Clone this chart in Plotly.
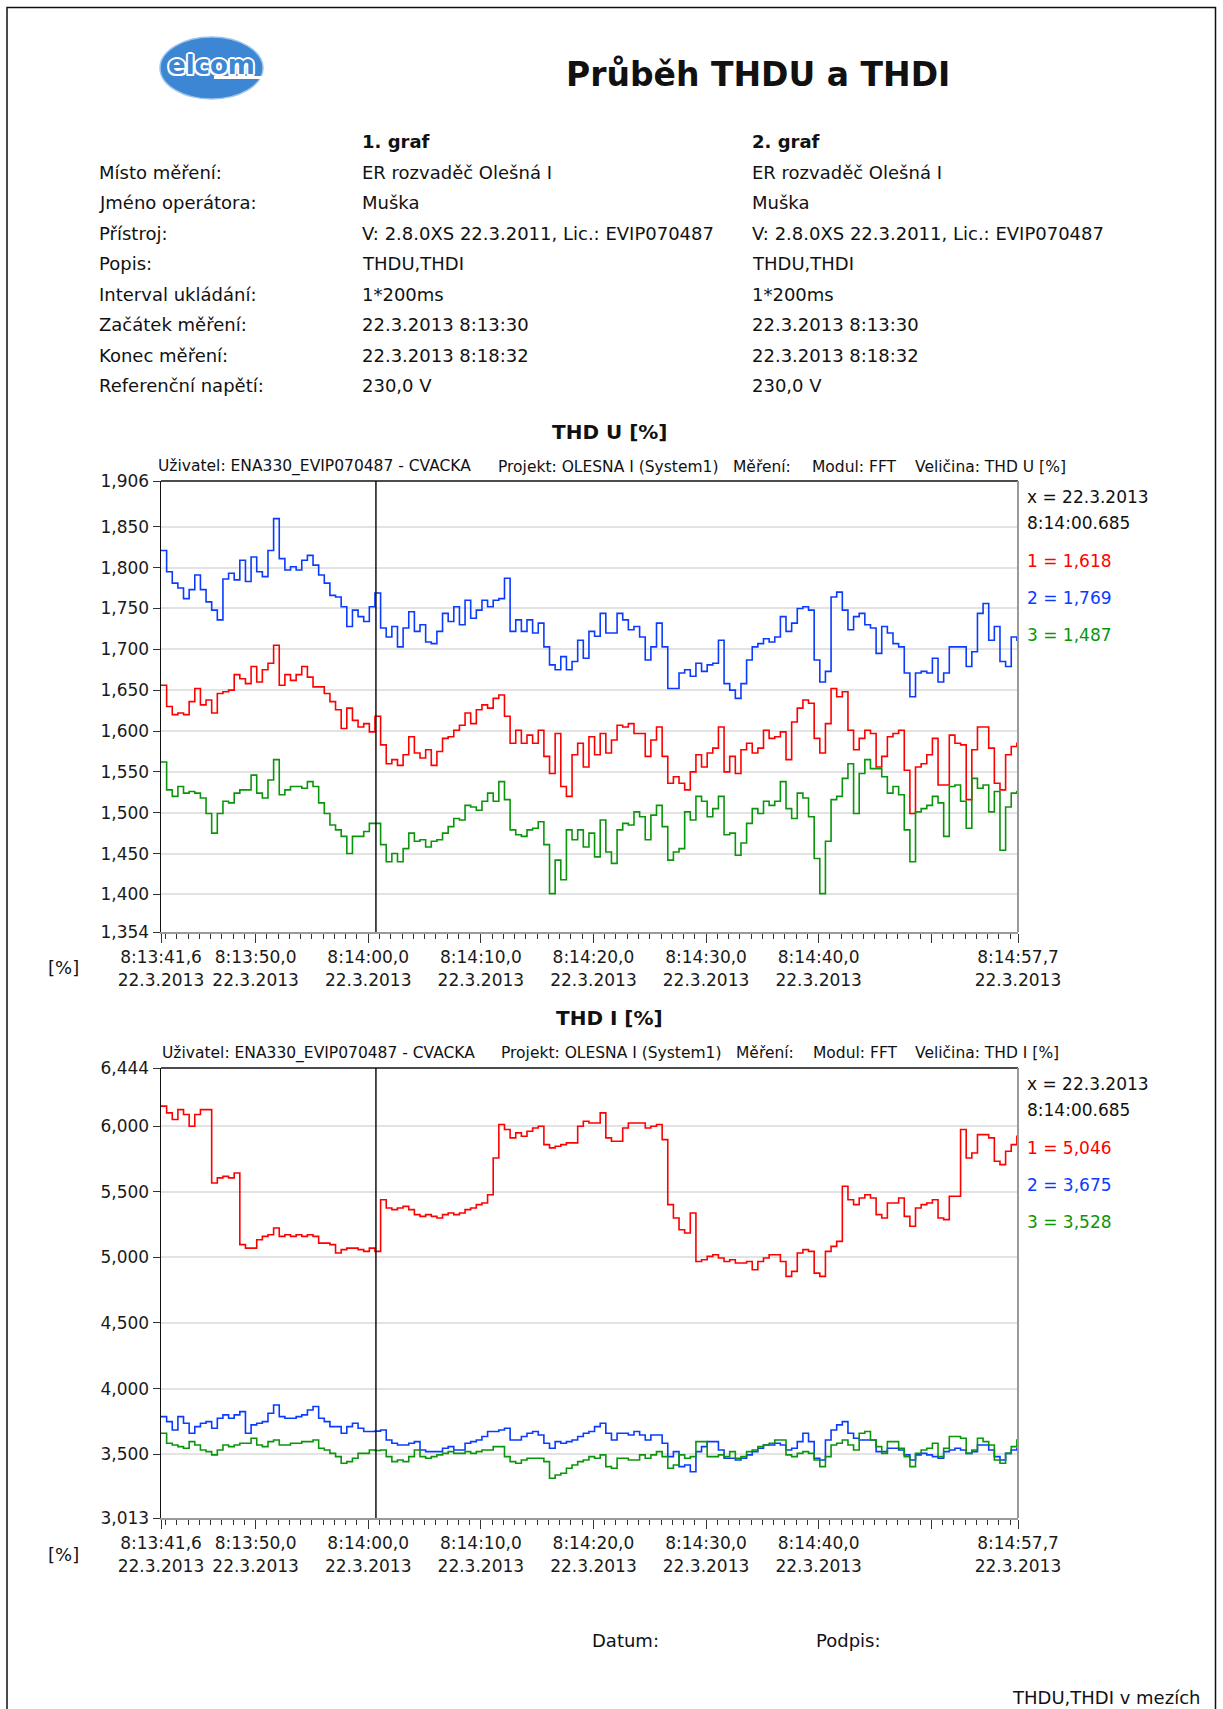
import pandas as pd
import plotly.graph_objects as go

# ---------------------------------------------------------------- data
START = pd.Timestamp("2013-03-22 08:13:41.6")
END = pd.Timestamp("2013-03-22 08:14:57.7")
CURSOR = pd.Timestamp("2013-03-22 08:14:00.685")
STEP = "500ms"

# THD U [%]  (1 = red, 2 = blue, 3 = green)
thdu_1 = [
    1.656, 1.630, 1.620, 1.622, 1.620, 1.636, 1.652, 1.632, 1.638, 1.622,
    1.646, 1.648, 1.650, 1.669, 1.664, 1.658, 1.679, 1.660, 1.675, 1.683,
    1.705, 1.656, 1.669, 1.662, 1.669, 1.679, 1.666, 1.654, 1.654, 1.646,
    1.636, 1.626, 1.603, 1.628, 1.613, 1.605, 1.609, 1.599, 1.618, 1.583,
    1.560, 1.565, 1.558, 1.571, 1.593, 1.573, 1.567, 1.577, 1.558, 1.575,
    1.591, 1.593, 1.601, 1.607, 1.622, 1.609, 1.626, 1.632, 1.628, 1.640,
    1.644, 1.618, 1.585, 1.601, 1.585, 1.595, 1.585, 1.601, 1.569, 1.548,
    1.597, 1.532, 1.520, 1.571, 1.585, 1.556, 1.593,
    1.571, 1.597, 1.573, 1.589, 1.607, 1.605, 1.609, 1.597, 1.597, 1.569,
    1.589, 1.605, 1.569, 1.536, 1.544, 1.536, 1.528, 1.550, 1.571, 1.556,
    1.573, 1.579, 1.605, 1.550, 1.569, 1.548, 1.577, 1.585, 1.573, 1.579,
    1.601, 1.591, 1.593, 1.599, 1.565, 1.611, 1.628, 1.638, 1.634, 1.591,
    1.573, 1.609, 1.652, 1.642, 1.648, 1.601, 1.577, 1.591, 1.601, 1.597,
    1.556, 1.569, 1.593, 1.597, 1.601, 1.552, 1.499, 1.556, 1.560, 1.571,
    1.591, 1.534, 1.534, 1.595, 1.585, 1.583, 1.516, 1.577, 1.605, 1.605,
    1.579, 1.536, 1.528, 1.571, 1.581, 1.585,
]
thdu_2 = [
    1.821, 1.795, 1.781, 1.775, 1.762, 1.773, 1.791, 1.773, 1.758, 1.748,
    1.736, 1.786, 1.793, 1.785, 1.809, 1.783, 1.813, 1.795, 1.789, 1.821,
    1.860, 1.811, 1.797, 1.801, 1.797, 1.809, 1.815, 1.803, 1.791, 1.781,
    1.766, 1.764, 1.752, 1.728, 1.748, 1.740, 1.734, 1.752, 1.769, 1.726,
    1.715, 1.728, 1.703, 1.726, 1.746, 1.722, 1.730, 1.709, 1.707, 1.722,
    1.744, 1.734, 1.752, 1.730, 1.760, 1.738, 1.748, 1.760, 1.752, 1.760,
    1.762, 1.787, 1.722, 1.736, 1.722, 1.736, 1.720, 1.732, 1.703, 1.681,
    1.675, 1.691, 1.675, 1.685, 1.711, 1.689, 1.722,
    1.716, 1.744, 1.720, 1.720, 1.744, 1.736, 1.724, 1.728, 1.715, 1.687,
    1.703, 1.732, 1.703, 1.652, 1.652, 1.671, 1.675, 1.667, 1.683, 1.673,
    1.681, 1.683, 1.711, 1.658, 1.650, 1.640, 1.658, 1.687, 1.703, 1.707,
    1.713, 1.709, 1.715, 1.740, 1.722, 1.732, 1.750, 1.752, 1.748, 1.687,
    1.660, 1.673, 1.764, 1.770, 1.748, 1.724, 1.740, 1.744, 1.730, 1.726,
    1.695, 1.728, 1.720, 1.707, 1.703, 1.671, 1.642, 1.671, 1.673, 1.671,
    1.689, 1.660, 1.671, 1.703, 1.703, 1.703, 1.679, 1.697, 1.744, 1.756,
    1.711, 1.728, 1.685, 1.679, 1.715, 1.711,
]
thdu_3 = [
    1.562, 1.528, 1.520, 1.532, 1.524, 1.526, 1.524, 1.518, 1.499, 1.475,
    1.499, 1.514, 1.512, 1.524, 1.528, 1.528, 1.546, 1.524, 1.518, 1.540,
    1.565, 1.522, 1.528, 1.532, 1.532, 1.530, 1.538, 1.532, 1.512, 1.499,
    1.485, 1.479, 1.471, 1.450, 1.471, 1.471, 1.477, 1.487, 1.487, 1.461,
    1.440, 1.450, 1.440, 1.456, 1.475, 1.465, 1.467, 1.458, 1.465, 1.467,
    1.475, 1.483, 1.493, 1.491, 1.509, 1.507, 1.503, 1.514, 1.524, 1.514,
    1.538, 1.516, 1.479, 1.473, 1.471, 1.479, 1.481, 1.489, 1.461, 1.401,
    1.442, 1.418, 1.479, 1.467, 1.479, 1.458, 1.475,
    1.446, 1.491, 1.452, 1.438, 1.479, 1.487, 1.485, 1.501, 1.495, 1.467,
    1.497, 1.509, 1.483, 1.442, 1.452, 1.456, 1.501, 1.491, 1.520, 1.514,
    1.495, 1.505, 1.520, 1.473, 1.475, 1.448, 1.463, 1.487, 1.505, 1.499,
    1.514, 1.509, 1.514, 1.538, 1.505, 1.493, 1.524, 1.518, 1.495, 1.444,
    1.401, 1.465, 1.516, 1.520, 1.542, 1.560, 1.499, 1.548, 1.565, 1.554,
    1.554, 1.544, 1.524, 1.532, 1.522, 1.479, 1.440, 1.501, 1.505, 1.509,
    1.520, 1.512, 1.471, 1.532, 1.534, 1.514, 1.481, 1.542, 1.530, 1.534,
    1.501, 1.526, 1.454, 1.507, 1.524, 1.526,
]

# THD I [%]  (1 = red, 2 = blue, 3 = green)
thdi_1 = [
    6.153, 6.102, 6.051, 6.127, 6.089, 6.000, 6.089, 6.127, 6.127, 5.567,
    5.606, 5.618, 5.606, 5.644, 5.097, 5.071, 5.071, 5.135, 5.160, 5.173,
    5.224, 5.160, 5.173, 5.160, 5.173, 5.160, 5.173, 5.160, 5.109, 5.109,
    5.097, 5.033, 5.059, 5.071, 5.071, 5.059, 5.046, 5.071, 5.046, 5.440,
    5.377, 5.364, 5.377, 5.389, 5.364, 5.326, 5.313, 5.326, 5.313, 5.300,
    5.326, 5.338, 5.326, 5.338, 5.364, 5.377, 5.402, 5.415, 5.478, 5.758,
    6.013, 5.975, 5.911, 5.949, 5.924, 5.962, 5.987, 6.000, 5.860, 5.835,
    5.847, 5.860, 5.873, 5.873, 6.000, 6.038, 6.025,
    6.025, 6.102, 5.911, 5.885, 5.885, 5.987, 6.025, 6.025, 6.025, 5.987,
    6.000, 6.013, 5.898, 5.402, 5.300, 5.211, 5.186, 5.338, 4.969, 4.982,
    5.008, 5.020, 4.995, 4.969, 4.982, 4.957, 4.957, 4.969, 4.906, 4.969,
    4.995, 5.020, 5.020, 4.969, 4.855, 4.893, 5.033, 5.059, 5.046, 4.880,
    4.855, 5.046, 5.084, 5.122, 5.542, 5.440, 5.402, 5.453, 5.478, 5.453,
    5.326, 5.300, 5.415, 5.415, 5.453, 5.313, 5.237, 5.377, 5.402, 5.415,
    5.440, 5.300, 5.288, 5.466, 5.466, 5.975, 5.758, 5.796, 5.936, 5.936,
    5.911, 5.733, 5.707, 5.809, 5.860, 5.924,
]
thdi_2 = [
    3.786, 3.748, 3.684, 3.786, 3.735, 3.659, 3.710, 3.735, 3.748, 3.697,
    3.774, 3.799, 3.774, 3.799, 3.824, 3.659, 3.723, 3.735, 3.748, 3.812,
    3.875, 3.786, 3.774, 3.774, 3.786, 3.799, 3.837, 3.863, 3.774, 3.748,
    3.710, 3.710, 3.659, 3.710, 3.735, 3.697, 3.672, 3.672, 3.675, 3.684,
    3.608, 3.583, 3.570, 3.570, 3.583, 3.595, 3.532, 3.519, 3.519, 3.519,
    3.545, 3.557, 3.532, 3.532, 3.583, 3.595, 3.608, 3.634, 3.672, 3.672,
    3.684, 3.697, 3.608, 3.608, 3.634, 3.659, 3.672, 3.646, 3.583, 3.545,
    3.595, 3.583, 3.595, 3.608, 3.634, 3.659, 3.672,
    3.710, 3.735, 3.659, 3.608, 3.659, 3.659, 3.646, 3.672, 3.646, 3.608,
    3.646, 3.646, 3.583, 3.481, 3.519, 3.405, 3.417, 3.366, 3.519, 3.557,
    3.595, 3.595, 3.532, 3.468, 3.468, 3.455, 3.468, 3.494, 3.519, 3.545,
    3.570, 3.570, 3.583, 3.570, 3.532, 3.545, 3.595, 3.659, 3.595, 3.468,
    3.455, 3.608, 3.684, 3.723, 3.748, 3.659, 3.621, 3.608, 3.608, 3.608,
    3.519, 3.519, 3.545, 3.545, 3.532, 3.494, 3.455, 3.494, 3.506, 3.494,
    3.481, 3.468, 3.519, 3.532, 3.545, 3.532, 3.506, 3.519, 3.570, 3.570,
    3.532, 3.481, 3.455, 3.506, 3.532, 3.545,
]
thdi_3 = [
    3.659, 3.583, 3.570, 3.557, 3.545, 3.595, 3.570, 3.532, 3.519, 3.494,
    3.532, 3.570, 3.557, 3.570, 3.583, 3.583, 3.621, 3.570, 3.557, 3.595,
    3.608, 3.570, 3.570, 3.583, 3.583, 3.595, 3.595, 3.608, 3.545, 3.532,
    3.506, 3.481, 3.430, 3.443, 3.468, 3.506, 3.506, 3.532, 3.528, 3.532,
    3.481, 3.443, 3.455, 3.443, 3.481, 3.532, 3.481, 3.468, 3.481, 3.494,
    3.506, 3.519, 3.506, 3.506, 3.519, 3.506, 3.519, 3.532, 3.532, 3.557,
    3.557, 3.481, 3.443, 3.430, 3.455, 3.468, 3.468, 3.468, 3.443, 3.316,
    3.341, 3.354, 3.392, 3.417, 3.443, 3.455, 3.481,
    3.468, 3.494, 3.405, 3.392, 3.468, 3.468, 3.455, 3.455, 3.494, 3.468,
    3.494, 3.519, 3.481, 3.392, 3.417, 3.494, 3.468, 3.481, 3.595, 3.595,
    3.481, 3.481, 3.494, 3.481, 3.519, 3.468, 3.481, 3.519, 3.532, 3.557,
    3.570, 3.583, 3.608, 3.608, 3.494, 3.481, 3.506, 3.519, 3.506, 3.455,
    3.405, 3.481, 3.570, 3.583, 3.608, 3.570, 3.532, 3.659, 3.672, 3.608,
    3.557, 3.506, 3.595, 3.595, 3.545, 3.481, 3.405, 3.506, 3.532, 3.545,
    3.583, 3.481, 3.545, 3.634, 3.634, 3.621, 3.506, 3.532, 3.621, 3.595,
    3.570, 3.455, 3.430, 3.506, 3.557, 3.608,
]

# axis ticks
time_ticks = ["08:13:41.6", "08:13:50.0", "08:14:00.0", "08:14:10.0", "08:14:20.0",
              "08:14:30.0", "08:14:40.0", "08:14:50.0", "08:14:57.7"]
time_labels = ["8:13:41,6", "8:13:50,0", "8:14:00,0", "8:14:10,0", "8:14:20,0",
               "8:14:30,0", "8:14:40,0", "", "8:14:57,7"]
date_label = "22.3.2013"
thdu_range = [1.354, 1.906]
thdu_ticks = [1.354, 1.400, 1.450, 1.500, 1.550, 1.600, 1.650, 1.700, 1.750, 1.800, 1.850, 1.906]
thdi_range = [3.013, 6.444]
thdi_ticks = [3.013, 3.500, 4.000, 4.500, 5.000, 5.500, 6.000, 6.444]

series_names = ["1", "2", "3"]
series_colors = ["#ff0000", "#0a3cff", "#0a960a"]

# report header
info_labels = ["Místo měření:", "Jméno operátora:", "Přístroj:", "Popis:",
               "Interval ukládání:", "Začátek měření:", "Konec měření:", "Referenční napětí:"]
info_values = ["ER rozvaděč Olešná I", "Muška", "V: 2.8.0XS 22.3.2011, Lic.: EVIP070487",
               "THDU,THDI", "1*200ms", "22.3.2013 8:13:30", "22.3.2013 8:18:32", "230,0 V"]

# ---------------------------------------------------------------- figure
W, H = 1223, 1709
FONT = "DejaVu Sans"
LOGO_BLUE = "#3c86d3"


def px(x):
    return x / W


def py(y):
    return 1 - y / H


def comma(v):
    return f"{v:.3f}".replace(".", ",")


def samples(values):
    times = list(pd.date_range(START, periods=len(values), freq=STEP)) + [END]
    return times, list(values) + [values[-1]]


day = START.strftime("%Y-%m-%d")
tick_dates = [pd.Timestamp(f"{day} {t}") for t in time_ticks]
tick_text = [f"{t}<br>{date_label}" if t else "" for t in time_labels]

fig = go.Figure()

charts = [
    dict(x="x", y="y", data=[thdu_1, thdu_2, thdu_3]),
    dict(x="x2", y="y2", data=[thdi_1, thdi_2, thdi_3]),
]
for ch in charts:
    for name, color, vals in zip(series_names, series_colors, ch["data"]):
        xs, ys = samples(vals)
        fig.add_trace(go.Scatter(
            x=xs, y=ys, mode="lines", name=name, line_shape="hv",
            line=dict(color=color, width=1.6), xaxis=ch["x"], yaxis=ch["y"],
            showlegend=False, hoverinfo="skip",
        ))

plot_left, plot_right = px(161), px(1018)


def x_axis(anchor):
    return dict(
        type="date", domain=[plot_left, plot_right], anchor=anchor, automargin=False,
        range=[START, END], tickmode="array", tickvals=tick_dates, ticktext=tick_text,
        ticks="outside", ticklen=9, tickwidth=1, tickcolor="#333333",
        minor=dict(ticks="outside", ticklen=5, tickwidth=1, tickcolor="#333333",
                   dtick=1000, tick0=f"{day} 08:13:42", showgrid=False),
        showgrid=False, zeroline=False, showline=True, linecolor="#9a9a9a", linewidth=2,
        tickfont=dict(family=FONT, size=17, color="#1a1a1a"), tickangle=0,
        fixedrange=True,
    )


def y_axis(domain, rng, ticks, anchor):
    return dict(
        domain=domain, range=rng, anchor=anchor, automargin=False, tickmode="array",
        tickvals=ticks, ticktext=[comma(v) for v in ticks],
        ticks="outside", ticklen=7, tickwidth=1, tickcolor="#333333",
        showgrid=True, gridcolor="#e3e3e3", gridwidth=2, zeroline=False,
        showline=True, linecolor="#111111", linewidth=1.5,
        tickfont=dict(family=FONT, size=17, color="#1a1a1a"), fixedrange=True,
    )


c1_top, c1_bot = 481, 932
c2_top, c2_bot = 1068, 1518

fig.update_layout(
    width=W, height=H, autosize=False,
    margin=dict(l=0, r=0, t=0, b=0, pad=0, autoexpand=False),
    paper_bgcolor="white", plot_bgcolor="white",
    font=dict(family=FONT, color="#111111"),
    xaxis=x_axis("y"),
    yaxis=y_axis([py(c1_bot), py(c1_top)], thdu_range, thdu_ticks, "x"),
    xaxis2=x_axis("y2"),
    yaxis2=y_axis([py(c2_bot), py(c2_top)], thdi_range, thdi_ticks, "x2"),
)

shapes = []
# page frame
shapes.append(dict(type="rect", xref="paper", yref="paper",
                   x0=px(7), x1=px(1215.5), y0=py(1730), y1=py(7.5),
                   line=dict(color="#111111", width=1.5), fillcolor="rgba(0,0,0,0)"))
# company logo: blue disc with a white cut under the lettering
shapes.append(dict(type="circle", xref="paper", yref="paper",
                   x0=px(160), x1=px(263), y0=py(99), y1=py(37),
                   fillcolor=LOGO_BLUE, line=dict(color="#9cc3ea", width=1.5)))
shapes.append(dict(type="rect", xref="paper", yref="paper",
                   x0=px(214), x1=px(275), y0=py(79), y1=py(76),
                   fillcolor="white", line=dict(width=0)))
# plot frames and the measuring cursor
for xr, yr in (("x", "y"), ("x2", "y2")):
    shapes.append(dict(type="line", xref=f"{xr} domain", yref=f"{yr} domain",
                       x0=0, x1=1, y0=1, y1=1, line=dict(color="#111111", width=1.5)))
    shapes.append(dict(type="line", xref=f"{xr} domain", yref=f"{yr} domain",
                       x0=1, x1=1, y0=0, y1=1, line=dict(color="#9a9a9a", width=2)))
    shapes.append(dict(type="line", xref=xr, yref=f"{yr} domain",
                       x0=CURSOR, x1=CURSOR, y0=0, y1=1, line=dict(color="#111111", width=1.5)))
fig.update_layout(shapes=shapes)

ann = []


def text(s, x, y, size=18, anchor="left", color="#111111", bold=False, shadow=None):
    font = dict(family=FONT, size=size, color=color)
    if shadow:
        font["shadow"] = shadow
    ann.append(dict(text=f"<b>{s}</b>" if bold else s, x=px(x), y=py(y),
                    xref="paper", yref="paper", xanchor=anchor, yanchor="middle",
                    showarrow=False, font=font))


# logo lettering: blue letters with a white halo
halo = ", ".join(f"{dx}px {dy}px 0 white" for dx, dy in
                 [(-2, 0), (2, 0), (0, -2), (0, 2), (-1.5, -1.5), (1.5, 1.5), (-1.5, 1.5), (1.5, -1.5)])
text("elcom", 211, 65, size=26, anchor="center", color=LOGO_BLUE, bold=True, shadow=halo)

# report title
text("Průběh THDU a THDI", 758, 74, size=33, anchor="center", bold=True)

# measurement info table
col_label, col_1, col_2 = 97, 360, 750
text("1. graf", col_1, 141.5, bold=True)
text("2. graf", col_2, 141.5, bold=True)
for i, (lab, val) in enumerate(zip(info_labels, info_values)):
    yy = 172.2 + i * 30.53
    text(lab, col_label, yy)
    text(val, col_1, yy)
    text(val, col_2, yy)

# chart captions, headers, cursor read-outs
chart_info = [
    dict(title="THD U [%]", title_y=432, head_y=466.5, head_x=[156, 496, 731, 810, 913],
         qty="THD U [%]", top=c1_top, bot=c1_bot, data=[thdu_1, thdu_2, thdu_3]),
    dict(title="THD I [%]", title_y=1018, head_y=1053, head_x=[160, 499, 734, 811, 913],
         qty="THD I [%]", top=c2_top, bot=c2_bot, data=[thdi_1, thdi_2, thdi_3]),
]
cursor_idx = int((CURSOR - START) / pd.Timedelta(STEP))
for ch in chart_info:
    text(ch["title"], 609, ch["title_y"], size=20, anchor="center", bold=True)
    parts = ["Uživatel: ENA330_EVIP070487 - CVACKA", "Projekt: OLESNA I (System1)",
             "Měření:", "Modul: FFT", f"Veličina: {ch['qty']}"]
    for part, hx in zip(parts, ch["head_x"]):
        text(part, hx, ch["head_y"], size=15.5)
    text("[%]", 63, ch["bot"] + 36, size=18, anchor="center")
    y0 = ch["top"] + 16
    text(f"x = {date_label}", 1025, y0, size=17)
    text(CURSOR.strftime("%H:%M:%S.%f")[:-3].lstrip("0"), 1025, y0 + 26, size=17)
    for j, (name, color, vals) in enumerate(zip(series_names, series_colors, ch["data"])):
        text(f"{name} = {comma(vals[cursor_idx])}", 1025, y0 + 64 + j * 37, size=17, color=color)

# footer
text("Datum:", 625, 1640, anchor="center")
text("Podpis:", 848, 1640, anchor="center")
text("THDU,THDI v mezích", 1202, 1697, anchor="right")

fig.update_layout(annotations=ann)

fig.write_html("out.html", config={"displayModeBar": False, "staticPlot": True})
